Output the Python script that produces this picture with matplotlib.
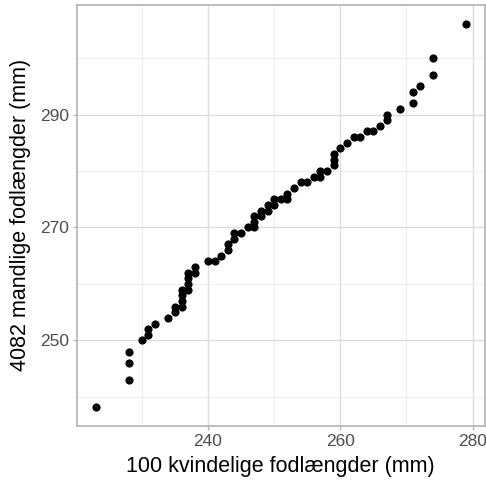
import matplotlib
matplotlib.use('Agg')
import matplotlib.pyplot as plt
import numpy as np

# sorted foot lengths (women) vs. quantiles of men's foot lengths (mm)
women = [223, 228, 228, 228, 230, 231, 231, 232, 234, 235, 235, 236, 236, 236,
         236, 237, 237, 237, 237, 238, 238, 240, 241, 242, 243, 243, 244, 244,
         245, 246, 247, 247, 247, 248, 248, 249, 249, 250, 250, 251, 252, 252,
         253, 254, 255, 256, 257, 257, 258, 259, 259, 259, 260, 261, 262, 263,
         264, 265, 266, 267, 267, 269, 271, 271, 272, 274, 274, 279]
men = [238.3, 243, 246, 248, 250, 251, 252, 253, 254, 255, 256, 256, 257, 258,
       259, 259, 260, 261, 262, 262, 263, 264, 264, 265, 266, 267, 268, 269,
       269, 270, 270, 271, 272, 272, 273, 273, 274, 274, 275, 275, 275, 276,
       277, 278, 278, 279, 279, 280, 280, 281, 282, 283, 284, 285, 286, 286,
       287, 287, 288, 289, 290, 291, 292, 294, 295, 297, 300, 306]

xticks = [240, 260, 280]
yticks = [250, 270, 290]

plt.rcParams['font.family'] = ['Liberation Sans', 'DejaVu Sans']

W, H = 486, 482
fig = plt.figure(figsize=(W / 100., H / 100.), dpi=100)
ax = fig.add_axes([77. / W, (H - 425.7) / H, (484.5 - 77.) / W, (425.7 - 5.) / H])

ax.plot(women, men, 'o', color='black', markersize=5.9, markeredgewidth=0,
        zorder=3)

x0, x1 = min(women), max(women)
y0, y1 = min(men), max(men)
ax.set_xlim(x0 - 0.05 * (x1 - x0), x1 + 0.05 * (x1 - x0))
ax.set_ylim(y0 - 0.05 * (y1 - y0), y1 + 0.05 * (y1 - y0))

ax.set_xticks(xticks)
ax.set_yticks(yticks)
ax.set_xticks([230, 250, 270], minor=True)
ax.set_yticks([240, 260, 280, 300], minor=True)
ax.grid(which='major', color='#DEDEDE', linewidth=1.0)
ax.grid(which='minor', color='#EBEBEB', linewidth=0.6)
ax.set_axisbelow(True)

for s in ax.spines.values():
    s.set_color('#B3B3B3')
    s.set_linewidth(1.2)

ax.tick_params(which='major', length=3, width=1, color='#B3B3B3',
               labelsize=12.5, labelcolor='#4D4D4D', pad=3)
ax.tick_params(which='minor', length=0)

ax.set_xlabel('100 kvindelige fodlængder (mm)', fontsize=15.5, labelpad=5)
ax.set_ylabel('4082 mandlige fodlængder (mm)', fontsize=15.5, labelpad=6)

fig.savefig('out.png', dpi=100)
